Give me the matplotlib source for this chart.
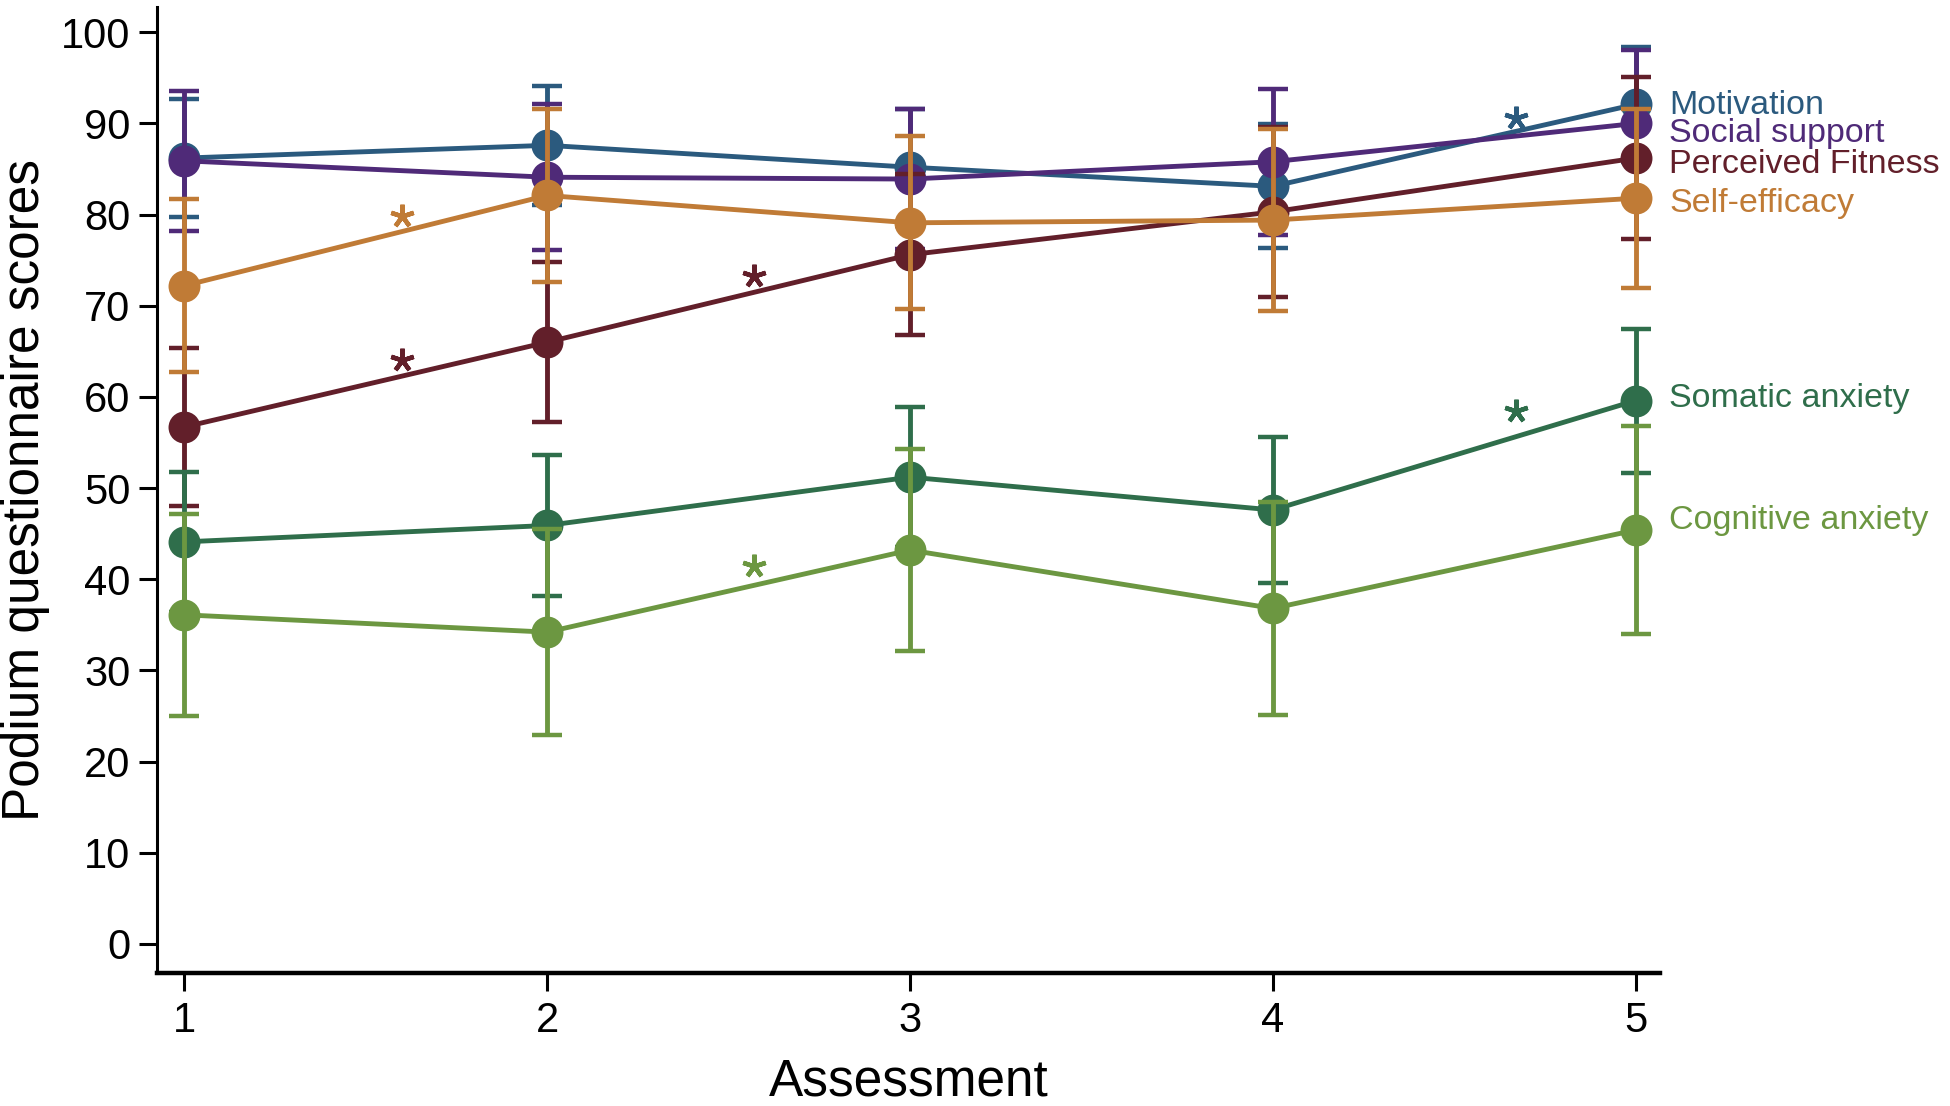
import matplotlib
matplotlib.use("Agg")
import matplotlib.pyplot as plt

plt.rcParams['font.family'] = ['Liberation Sans', 'DejaVu Sans']

assessments = [1, 2, 3, 4, 5]
series_names = ["Motivation", "Social support", "Perceived Fitness",
                "Self-efficacy", "Somatic anxiety", "Cognitive anxiety"]
series_colors = ["#2b5a7e", "#4f2a78", "#621f2a", "#c07b36", "#2f6e4b", "#6c9741"]

motivation = [86.2, 87.6, 85.2, 83.1, 92.1]
motivation_err = [6.5, 6.5, 6.4, 6.8, 6.3]
social_support = [85.9, 84.1, 83.9, 85.8, 90.0]
social_support_err = [7.7, 8.0, 7.7, 8.0, 8.1]
perceived_fitness = [56.7, 66.0, 75.6, 80.3, 86.2]
perceived_fitness_err = [8.7, 8.8, 8.8, 9.3, 8.9]
self_efficacy = [72.2, 82.1, 79.1, 79.4, 81.8]
self_efficacy_err = [9.5, 9.5, 9.5, 10.0, 9.8]
somatic_anxiety = [44.1, 45.9, 51.2, 47.6, 59.6]
somatic_anxiety_err = [7.7, 7.7, 7.7, 8.0, 7.9]
cognitive_anxiety = [36.1, 34.2, 43.2, 36.8, 45.4]
cognitive_anxiety_err = [11.1, 11.3, 11.1, 11.7, 11.4]

label_y = [92.0, 88.9, 85.5, 81.2, 59.8, 46.4]

# significance asterisks: (x, y, series index)
star_x = [1.60, 1.60, 2.57, 2.57, 4.67, 4.67]
star_y = [79.8, 64.0, 73.3, 41.5, 90.6, 58.5]
star_series = [3, 2, 2, 5, 0, 4]

yticks = [0, 10, 20, 30, 40, 50, 60, 70, 80, 90, 100]

values = [motivation, social_support, perceived_fitness, self_efficacy,
          somatic_anxiety, cognitive_anxiety]
errors = [motivation_err, social_support_err, perceived_fitness_err,
          self_efficacy_err, somatic_anxiety_err, cognitive_anxiety_err]

fig = plt.figure(figsize=(19.5, 11.06), dpi=100)
ax = fig.add_axes([0.0804, 0.1205, 0.7709, 0.8734])

for i, (vals, errs) in enumerate(zip(values, errors)):
    c = series_colors[i]
    ax.errorbar(assessments, vals, yerr=errs, color=c, ecolor=c,
                elinewidth=3.5, capsize=11, capthick=3.2, lw=3.5,
                fmt='-', zorder=2 + i)
    ax.plot(assessments, vals, linestyle='none', marker='o', markersize=23,
            markeredgewidth=0, color=c, zorder=2 + i)
    ax.text(5.092, label_y[i], series_names[i], color=c, fontsize=24.5,
            ha='left', va='center', clip_on=False)

for sx, sy, si in zip(star_x, star_y, star_series):
    ax.plot([sx], [sy], marker=(5, 2, 0), markersize=17, markeredgewidth=3.2,
            color=series_colors[si], linestyle='none', zorder=10)

ax.set_xlim(0.9245, 5.067)
ax.set_ylim(-3.16, 102.8)
ax.set_xticks(assessments)
ax.set_yticks(yticks)
ax.tick_params(axis='both', labelsize=30, width=2.2, length=13, color='black')
ax.tick_params(axis='y', pad=6)
ax.tick_params(axis='x', pad=7)
ax.spines['top'].set_visible(False)
ax.spines['right'].set_visible(False)
ax.spines['left'].set_linewidth(2.2)
ax.spines['bottom'].set_linewidth(3.2)
ax.set_xlabel("Assessment", fontsize=37, labelpad=12)
ax.set_ylabel("Podium questionnaire scores", fontsize=37, labelpad=8)

fig.savefig("out.png", dpi=100)
